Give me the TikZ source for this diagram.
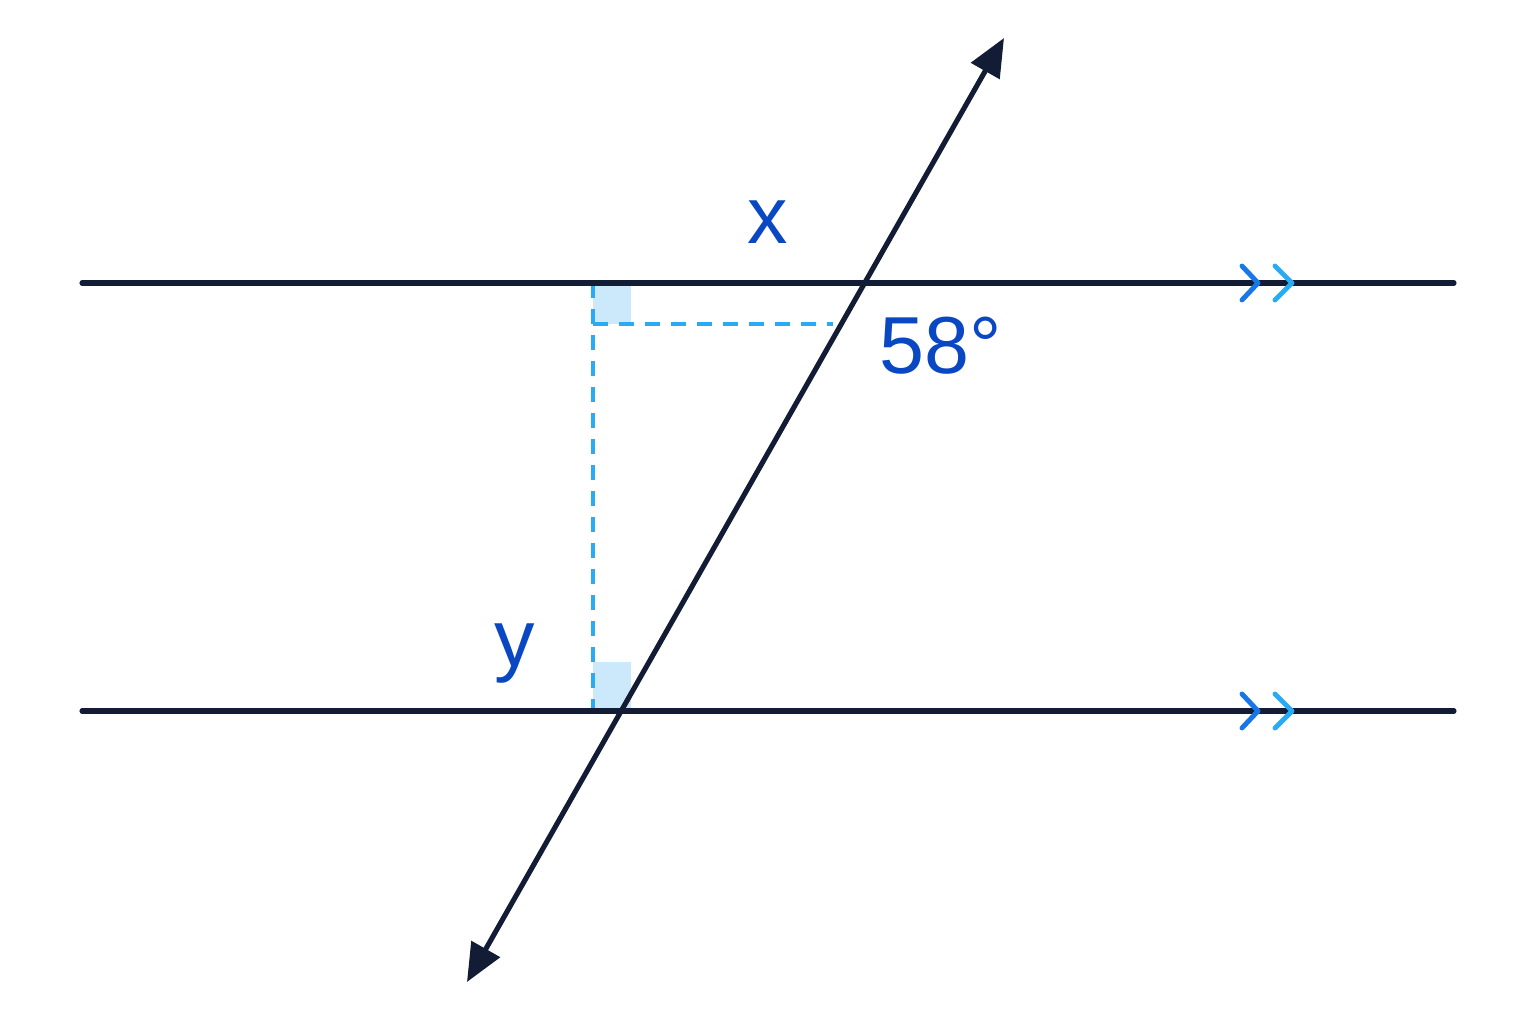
\documentclass[tikz,border=0pt]{standalone}
\usepackage{fontspec}
\setmainfont{Liberation Sans}
\usepackage{xcolor}
\usetikzlibrary{arrows.meta}
\definecolor{navy}{HTML}{131C35}
\definecolor{lblblue}{HTML}{0A47C2}
\definecolor{chevdark}{HTML}{1877E8}
\definecolor{chevlight}{HTML}{29AAF5}
\definecolor{sqfill}{HTML}{CCE9FC}

\begin{document}
\begin{tikzpicture}[x=0.01cm, y=-0.01cm,
                parline/.style={navy, line width=1.45pt, line cap=round},
                transv/.style={navy, line width=1.45pt,
                  {Triangle[length=0.38cm, width=0.32cm]}-{Triangle[length=0.38cm, width=0.32cm]}
                },
                helper/.style={chevlight, line width=1.05pt, dash pattern=on 0.15cm off 0.11cm},
                chevron/.style={line width=1.4pt, line cap=round, line join=round},
                anglabel/.style={lblblue, font=\fontsize{23}{26}\selectfont, inner sep=0pt}
              ]
              \useasboundingbox (0,0) rectangle (1536,1024);
              % parallel lines
              \coordinate (l1a) at (82,283);
              \coordinate (l1b) at (1454,283);
              \coordinate (l2a) at (82,711);
              \coordinate (l2b) at (1454,711);
              % transversal ends and crossings
              \coordinate (tt) at (1004,38);
              \coordinate (tb) at (467,982);
              \coordinate (p) at (865,283);
              \coordinate (q) at (621,711);
              % foot of the perpendicular
              \coordinate (f1) at (593,283);
              \coordinate (f2) at (593,711);
              \coordinate (h) at (833,324);

              % right-angle marks
              \fill[sqfill] (f1) rectangle (631,324);
              \fill[sqfill] (f2) rectangle (631,662);
              \draw[helper] (f1) -- (f2);
              \draw[helper] (593,324) -- (h);

              \draw[parline] (l1a) -- (l1b);
              \draw[parline] (l2a) -- (l2b);
              \draw[transv] (tb) -- (tt);

              % parallel marks
              \foreach \yy in {283,711} {
                \draw[chevron, chevdark] (1242,\yy-17) -- (1258,\yy) -- (1242,\yy+17);
                \draw[chevron, chevlight] (1275,\yy-17) -- (1292,\yy) -- (1275,\yy+17);
              }

              \node[anglabel] (lx) at (768,222) {x};
              \node[anglabel] (l58) at (941,346) {58°};
              \node[anglabel] (ly) at (515,654) {y};
\end{tikzpicture}
\end{document}
